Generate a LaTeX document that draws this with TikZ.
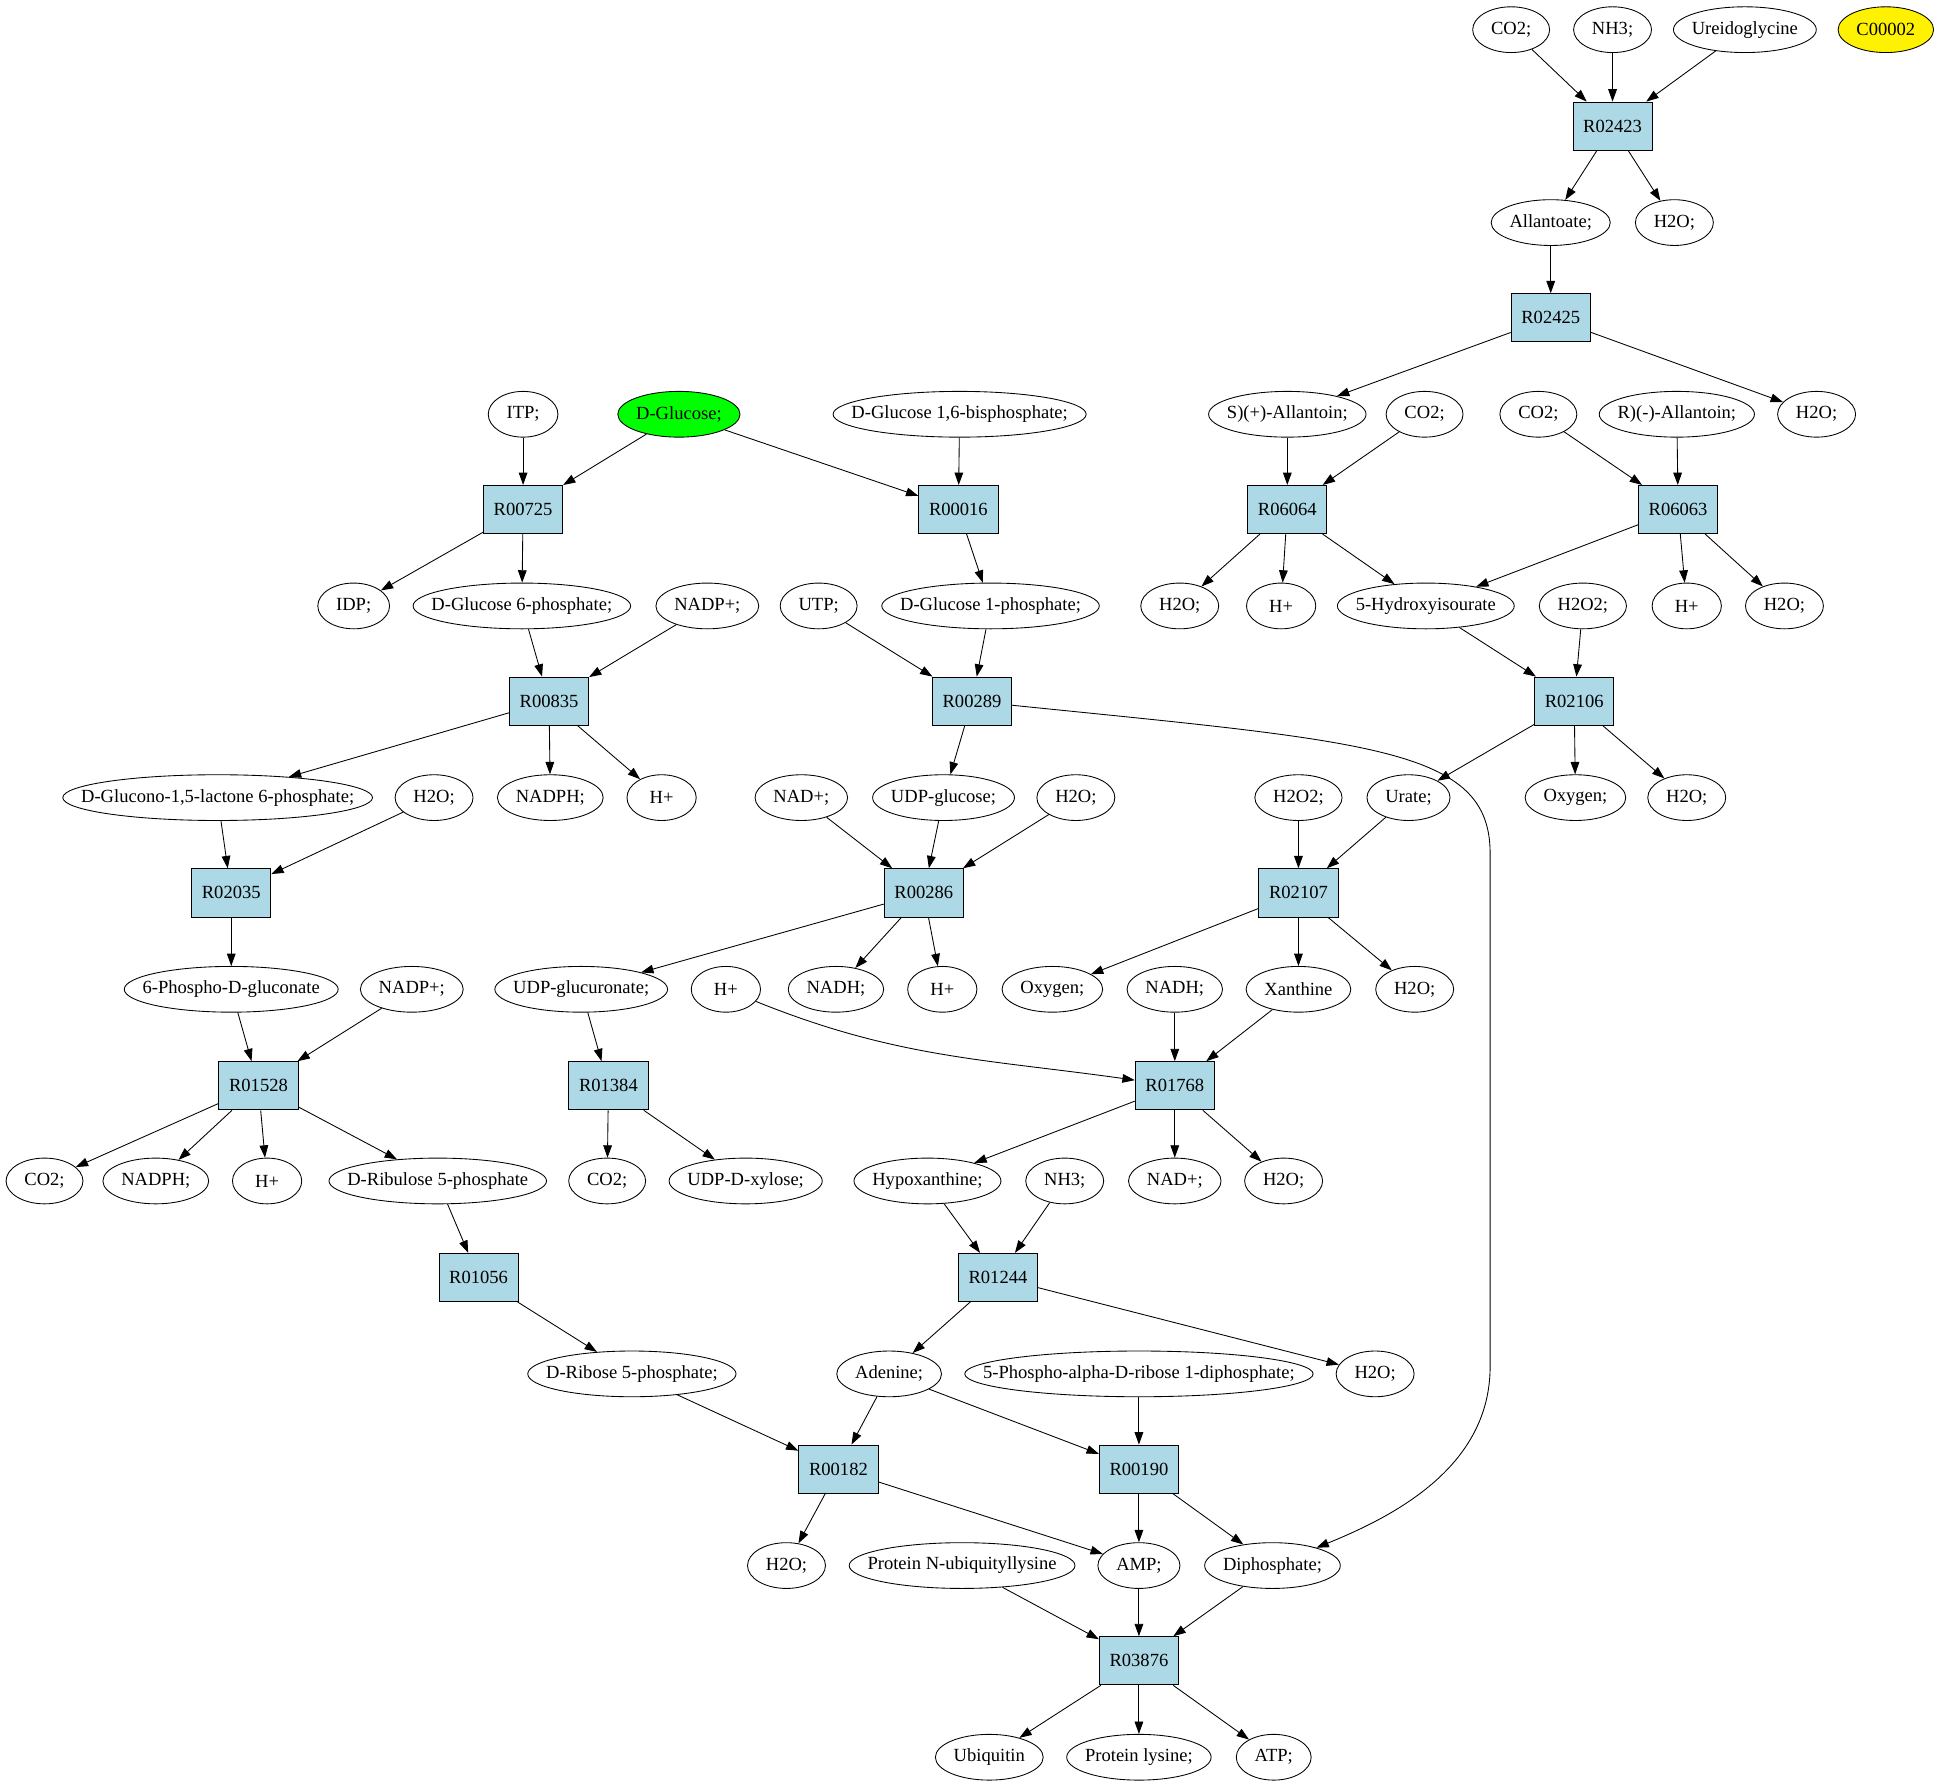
\documentclass[tikz,border=0pt]{standalone}
\usepackage{fontspec}
\setmainfont{Liberation Serif}
\usetikzlibrary{shapes.geometric}
\usetikzlibrary{arrows.meta}

\definecolor{lightblue}{RGB}{173,216,230}

\tikzset{
    cpd/.style={ellipse, draw, line width=0.7pt, minimum width=56pt, minimum height=37pt,
        inner xsep=10.5pt, inner ysep=0pt, font=\fontsize{15}{17}\selectfont},
    rxn/.style={rectangle, draw, fill=lightblue, line width=0.7pt, minimum width=64pt,
        minimum height=39pt, inner sep=0pt, font=\fontsize{15}{17}\selectfont},
    flow/.style={->, line width=0.7pt, >={Triangle[length=10pt,width=7pt]}},
}

\begin{document}
\begin{tikzpicture}[x=1pt, y=-1pt]

\useasboundingbox (0,0) rectangle (1568,1445);

% Compounds
\foreach \nm/\x/\y/\lbl in {
co2a/1222/24/{CO2;}, nh3a/1304/24/{NH3;}, ureido/1411/24/{Ureidoglycine},
allantoate/1254/180/{Allantoate;}, h2oa/1354/180/{H2O;},
itp/423/335/{ITP;}, dgbp/776/335/{D-Glucose 1,6-bisphosphate;},
sallan/1041/335/{S)(+)-Allantoin;}, co2b/1152/335/{CO2;}, co2c/1244/335/{CO2;},
rallan/1356/335/{R)(-)-Allantoin;}, h2ob/1469/335/{H2O;},
idp/286/490/{IDP;}, dg6p/422/490/{D-Glucose 6-phosphate;}, nadpa/572/490/{NADP+;},
utp/662/490/{UTP;}, dg1p/801/490/{D-Glucose 1-phosphate;}, h2oc/954/490/{H2O;},
hpa/1036/490/{H+}, hiu/1153/490/{5-Hydroxyisourate}, h2o2a/1280/490/{H2O2;},
hpb/1364/490/{H+}, h2od/1443/490/{H2O;},
glcl/176/645/{D-Glucono-1,5-lactone 6-phosphate;}, h2oe/351/645/{H2O;},
nadpha/445/645/{NADPH;}, hpc/535/645/{H+}, nada/648/645/{NAD+;},
udpg/763/645/{UDP-glucose;}, h2of/870/645/{H2O;}, h2o2b/1050/645/{H2O2;},
urate/1139/645/{Urate;}, oxya/1274/645/{Oxygen;}, h2og/1364/645/{H2O;},
pglc/187/800/{6-Phospho-D-gluconate}, nadpb/333/800/{NADP+;},
udpgca/470/800/{UDP-glucuronate;}, hpd/587/800/{H+}, nadha/676/800/{NADH;},
hpe/762/800/{H+}, oxyb/851/800/{Oxygen;}, nadhb/950/800/{NADH;},
xan/1050/800/{Xanthine}, h2oh/1144/800/{H2O;},
co2d/36/955/{CO2;}, nadphb/126/955/{NADPH;}, hpf/216/955/{H+},
ru5p/354/955/{D-Ribulose 5-phosphate}, co2e/491/955/{CO2;},
udpx/603/955/{UDP-D-xylose;}, hypx/750/955/{Hypoxanthine;}, nh3b/861/955/{NH3;},
nadb/950/955/{NAD+;}, h2oi/1038/955/{H2O;},
r5p/511/1111/{D-Ribose 5-phosphate;}, ade/719/1111/{Adenine;},
prpp/921/1111/{5-Phospho-alpha-D-ribose 1-diphosphate;}, h2oj/1112/1111/{H2O;},
h2ok/636/1266/{H2O;}, pnub/778/1266/{Protein N-ubiquityllysine},
amp/921/1266/{AMP;}, ppi/1029/1266/{Diphosphate;},
ubq/800/1421/{Ubiquitin}, plys/921/1421/{Protein lysine;}, atp/1030/1421/{ATP;}%
} {
    \node[cpd] (\nm) at (\x,\y) {\makebox[0.7071\width]{\lbl}};
}
\node[cpd, fill=green] (dglc) at (549,335) {\makebox[0.7071\width]{D-Glucose;}};
\node[cpd, fill=yellow] (c00002) at (1525,24) {\makebox[0.7071\width]{C00002}};

% Reactions
\foreach \nm/\x/\y in {
R02423/1304/102, R02425/1254/257,
R00725/423/412, R00016/775/412, R06064/1041/412, R06063/1357/412,
R00835/444/567, R00289/786/567, R02106/1273/567,
R02035/187/722, R00286/747/722, R02107/1050/722,
R01528/209/878, R01384/492/878, R01768/950/878,
R01056/387/1033, R01244/807/1033,
R00182/678/1188, R00190/921/1188,
R03876/921/1343%
} {
    \node[rxn] (\nm) at (\x,\y) {\nm};
}

% Draws arrows
\foreach \a/\b in {
co2a/R02423, nh3a/R02423, ureido/R02423, R02423/allantoate, R02423/h2oa,
allantoate/R02425, R02425/sallan, R02425/h2ob,
sallan/R06064, co2b/R06064, co2c/R06063, rallan/R06063,
R06064/h2oc, R06064/hpa, R06064/hiu, R06063/hiu, R06063/hpb, R06063/h2od,
hiu/R02106, h2o2a/R02106, R02106/urate, R02106/oxya, R02106/h2og,
h2o2b/R02107, urate/R02107, R02107/oxyb, R02107/xan, R02107/h2oh,
nadhb/R01768, xan/R01768, R01768/hypx, R01768/nadb, R01768/h2oi,
hypx/R01244, nh3b/R01244, R01244/ade, R01244/h2oj,
ade/R00182, ade/R00190, prpp/R00190, r5p/R00182,
R00182/h2ok, R00182/amp, R00190/amp, R00190/ppi,
pnub/R03876, amp/R03876, ppi/R03876,
R03876/ubq, R03876/plys, R03876/atp,
itp/R00725, dglc/R00725, dglc/R00016, dgbp/R00016,
R00725/idp, R00725/dg6p, R00016/dg1p,
dg6p/R00835, nadpa/R00835, utp/R00289, dg1p/R00289,
R00835/glcl, R00835/nadpha, R00835/hpc, R00289/udpg,
glcl/R02035, h2oe/R02035, nada/R00286, udpg/R00286, h2of/R00286,
R02035/pglc, R00286/udpgca, R00286/nadha, R00286/hpe,
pglc/R01528, nadpb/R01528, udpgca/R01384,
R01528/co2d, R01528/nadphb, R01528/hpf, R01528/ru5p,
R01384/co2e, R01384/udpx, ru5p/R01056, R01056/r5p%
} {
    \draw[flow] (\a) -- (\b);
}

% Curved arrows
\draw[flow] (hpd) to[out=-22, in=172] (R01768);
\draw[flow] (R00289) .. controls (1110,600) and (1205,605) .. (1205,690)
    -- (1205,1105) .. controls (1205,1185) and (1130,1225) .. (ppi);

\end{tikzpicture}
\end{document}
